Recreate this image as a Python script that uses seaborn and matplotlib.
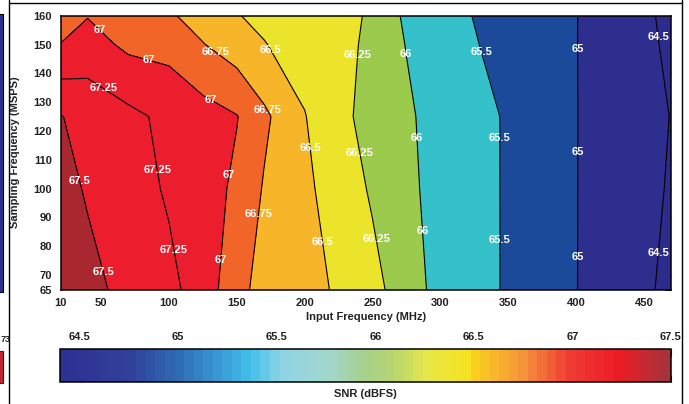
import numpy as np
import pandas as pd
import seaborn as sns
import matplotlib.pyplot as plt
from matplotlib.colors import ListedColormap, BoundaryNorm, LinearSegmentedColormap, Normalize
from matplotlib.cm import ScalarMappable
from matplotlib.lines import Line2D
from matplotlib.patches import Rectangle

sns.set_theme(style='white')
plt.rcParams['font.family'] = ['Liberation Sans', 'DejaVu Sans']
plt.rcParams['font.weight'] = 'bold'

input_freq = [20, 40, 70, 100, 125, 150, 170, 200, 225, 250, 275, 300, 345, 400, 450, 470]
sampling_freq = [65, 100, 125, 150, 160]

snr_fs65 = [67.65, 67.56, 67.44, 67.31, 67.14, 66.83, 66.66, 66.58, 66.47, 66.32, 66.13, 65.91, 65.49, 65.01, 64.57, 64.40]
snr_fs100 = [67.57, 67.48, 67.36, 67.22, 67.12, 66.95, 66.73, 66.55, 66.385, 66.22, 66.07, 65.89, 65.49, 65.01, 64.62, 64.46]
snr_fs125 = [67.51, 67.42, 67.31, 67.19, 67.10, 67.01, 66.80, 66.51, 66.31, 66.17, 66.05, 65.87, 65.49, 65.01, 64.64, 64.49]
snr_fs150 = [67.01, 67.10, 66.95, 66.92, 66.76, 66.625, 66.51, 66.40, 66.32, 66.20, 65.99, 65.745, 65.36, 65.01, 64.59, 64.43]
snr_fs160 = [66.80, 66.99, 66.89, 66.78, 66.65, 66.51, 66.45, 66.37, 66.32, 66.22, 65.95, 65.68, 65.33, 65.01, 64.575, 64.40]

line_levels = [64.5, 65, 65.5, 66, 66.25, 66.5, 66.75, 67, 67.25, 67.5]
fill_levels = [64.0, 64.5, 65, 65.5, 66, 66.25, 66.5, 66.75, 67, 67.25, 67.5, 68.0]
fill_colors = ['#2d2b8c', '#2e2e8f', '#1b4a9b', '#35c1ca', '#9cca4c', '#ebe42b',
               '#f7b52a', '#f26529', '#ec1d2c', '#ec1d2c', '#a92830']

x_ticks = [20, 50, 100, 150, 200, 250, 300, 350, 400, 450]
x_tick_labels = ['10', '50', '100', '150', '200', '250', '300', '350', '400', '450']
y_ticks = [65, 70, 80, 90, 100, 110, 120, 130, 140, 150, 160]

# where the white level labels sit
label_spots = [(49.8, 155.4), (84.5, 144.2), (51.1, 134.4), (134.4, 147.7), (173.9, 147.7),
               (240.0, 146.3), (275.9, 146.7), (326.7, 147.1), (399.9, 148.4), (460.5, 152.6),
               (130.9, 131.0), (172.4, 127.1), (203.9, 114.0), (240.8, 112.5), (285.7, 117.5),
               (344.4, 117.5), (399.9, 112.6), (96.3, 107.0), (146.2, 104.6), (34.4, 102.8),
               (163.8, 91.2), (214.4, 81.6), (107.3, 79.1), (141.4, 75.2), (51.5, 71.1),
               (253.0, 82.5), (288.1, 85.3), (344.4, 82.1), (399.9, 76.2), (461.3, 77.8)]

# colour bar
bar_ticks = [64.5, 65, 65.5, 66, 66.5, 67, 67.5]
bar_anchors = [(0.00, '#2e3192'), (0.11, '#31409a'), (0.19, '#2e6db4'), (0.26, '#3b9bd6'),
               (0.31, '#41c0ea'), (0.36, '#8fd4e6'), (0.44, '#a3d6cc'), (0.50, '#a6d08a'),
               (0.55, '#b9d66e'), (0.60, '#e6e84a'), (0.67, '#f6e21e'), (0.68, '#fbcf1e'),
               (0.76, '#f4953a'), (0.84, '#f03b34'), (0.92, '#ec1c24'), (1.00, '#a8323c')]

snr = pd.DataFrame([snr_fs65, snr_fs100, snr_fs125, snr_fs150, snr_fs160],
                   index=sampling_freq, columns=input_freq)

fig = plt.figure(figsize=(6.89, 4.04), dpi=100)
ax = fig.add_axes([60.5 / 689, 1 - 289.5 / 404, 610.5 / 689, 273.8 / 404])

cmap = ListedColormap(fill_colors)
norm = BoundaryNorm(fill_levels, cmap.N)
ax.contourf(snr.columns, snr.index, snr.values, levels=fill_levels, cmap=cmap, norm=norm)
cs = ax.contour(snr.columns, snr.index, snr.values, levels=line_levels, colors='black', linewidths=0.8)
ax.set_xlim(20, 470)
ax.set_ylim(65, 160)

labels = ax.clabel(cs, manual=label_spots, inline=False, fmt='%g', colors='white', fontsize=8)
for t in labels:
    t.set_rotation(0)
    t.set_fontweight('bold')

ax.set_xticks(x_ticks)
ax.set_xticklabels(x_tick_labels)
ax.set_yticks(y_ticks)
ax.tick_params(direction='in', length=4, width=0.8, color='#333333', top=True, right=True,
               labelsize=8, labelcolor='#222222', pad=6)
for s in ax.spines.values():
    s.set_color('black')
    s.set_linewidth(1.1)
ax.set_xlabel('Input Frequency (MHz)', fontsize=8, fontweight='bold', color='#222222', labelpad=3)
ax.set_ylabel('Sampling Frequency (MSPS)', fontsize=8, fontweight='bold', color='#222222', labelpad=10)

cax = fig.add_axes([60 / 689, 1 - 382 / 404, 611 / 689, 33 / 404])
bar_cmap = LinearSegmentedColormap.from_list('snr_bar', bar_anchors, N=64)
cb = fig.colorbar(ScalarMappable(norm=Normalize(64.4, 67.5), cmap=bar_cmap), cax=cax,
                  orientation='horizontal', ticks=bar_ticks)
cb.set_ticklabels(['%g' % v for v in bar_ticks])
cb.outline.set_edgecolor('black')
cb.outline.set_linewidth(1.1)
cax.tick_params(axis='x', direction='in', length=5, width=0.8, color='#222222', top=True, bottom=True,
                labeltop=True, labelbottom=False, labelsize=8, labelcolor='#222222', pad=5)
cax.set_xlabel('SNR (dBFS)', fontsize=8, fontweight='bold', color='#222222', labelpad=5)
cax.xaxis.set_label_position('bottom')

# bits of the neighbouring panel and the page frame
fig.add_artist(Line2D([9 / 689, 9 / 689], [0, 1], transform=fig.transFigure, color='black', lw=1))
fig.add_artist(Line2D([9 / 689, 681.5 / 689], [1 - 3 / 404, 1 - 3 / 404], transform=fig.transFigure, color='black', lw=1))
fig.add_artist(Line2D([681.5 / 689, 681.5 / 689], [0, 1], transform=fig.transFigure, color='black', lw=1))
fig.add_artist(Rectangle((-0.01, 1 - 292 / 404), 0.01 + 3.5 / 689, 278 / 404, transform=fig.transFigure,
                         facecolor='#2e3192', edgecolor='black', lw=0.8))
fig.add_artist(Rectangle((-0.01, 1 - 383 / 404), 0.01 + 3.5 / 689, 32 / 404, transform=fig.transFigure,
                         facecolor='#c0272d', edgecolor='#5a1014', lw=0.8))
fig.text(1 / 689, 1 - 340 / 404, '73', ha='left', va='center', fontsize=6.5, fontweight='bold', color='#222222')

fig.savefig('out.png', dpi=100)
